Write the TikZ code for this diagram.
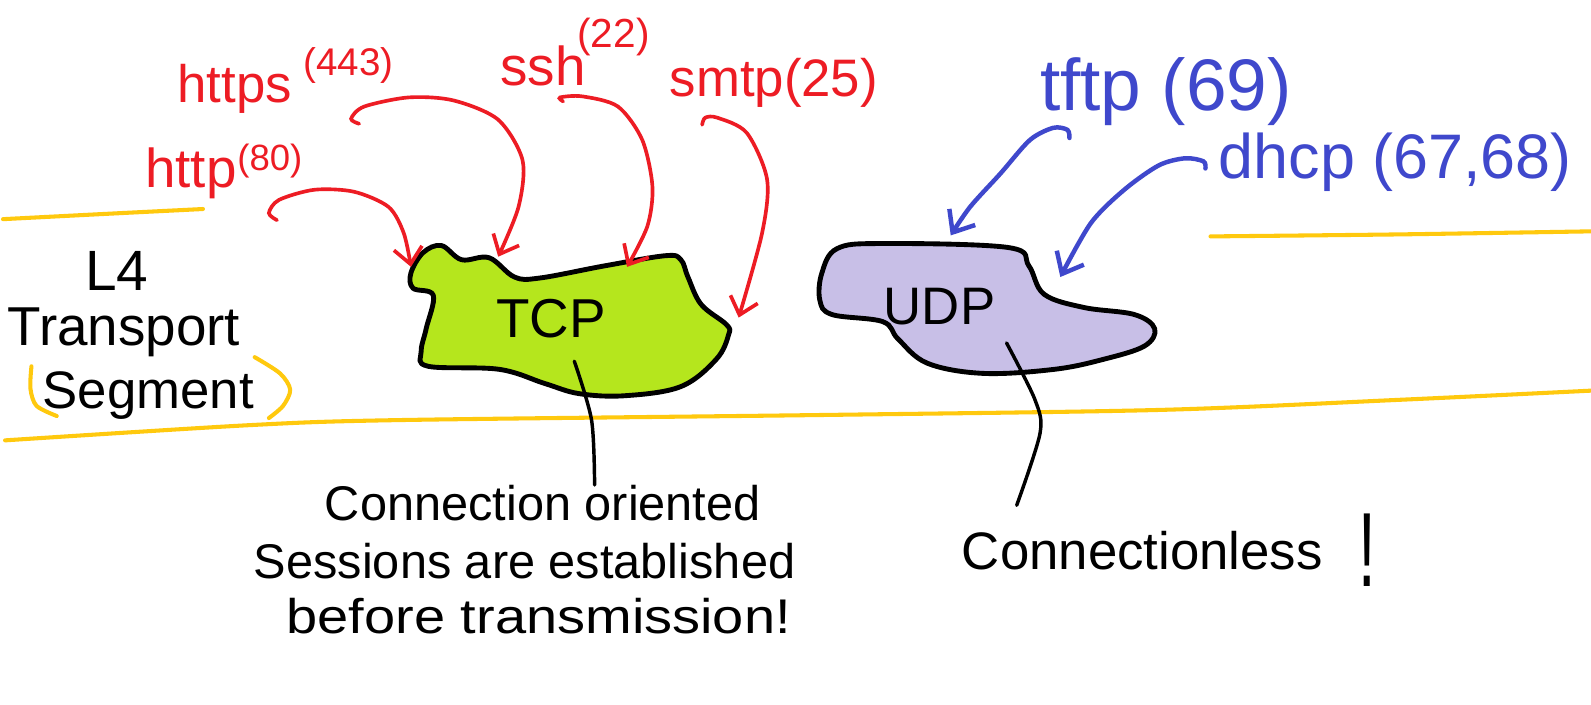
\documentclass[tikz,border=0pt]{standalone}
\usepackage{fontspec}
\setmainfont{Liberation Sans}
\usetikzlibrary{arrows.meta}
\definecolor{pred}{HTML}{ED1C24}
\definecolor{pblue}{HTML}{3F48CC}
\definecolor{pgold}{HTML}{FFC90E}
\definecolor{plime}{HTML}{B5E61D}
\definecolor{plav}{HTML}{C8BFE7}
\newcommand\fsz[1]{\fontsize{#1pt}{#1pt}\selectfont}
\tikzset{
  yel/.style={draw=pgold, line width=2pt, line cap=round, line join=round},
  redarr/.style={draw=pred, line width=1.8pt, line cap=round,
    -{Straight Barb[length=8pt,width=14pt,line width=1.8pt]}},
  bluearr/.style={draw=pblue, line width=2.2pt, line cap=round,
    -{Straight Barb[length=9pt,width=15pt,line width=2.2pt]}},
  blob/.style={draw=black, line width=2.4pt, line join=round},
  pointer/.style={draw=black, line width=1.7pt, line cap=round},
  lbl/.style={inner sep=0pt, outer sep=0pt},
  redlbl/.style={lbl, text=pred},
  bluelbl/.style={lbl, text=pblue},
}
\begin{document}
\begin{tikzpicture}[x=0.5pt,y=-0.5pt]
\useasboundingbox[fill=white] (0,0) rectangle (1568,694);

% layer band
\draw[yel] plot[smooth] coordinates {(3,216) (100,211) (200,206)};
\draw[yel] plot[smooth] coordinates {(1193,233) (1380,231) (1568,228)};
\draw[yel] plot[smooth] coordinates {(5,434) (246,419) (394,414) (810,409) (1143,404) (1380,394) (1568,385)};
\draw[yel] plot[smooth] coordinates {(31,361) (30,383) (36,400) (56,410)};
\draw[yel] plot[smooth] coordinates {(251,352) (276,368) (286,384) (279,400) (265,412)};

% layer label
\node[lbl] (l4) at (115,267) {\fsz{28}L4};
\node[lbl] (transport) at (122,328) {\fsz{27}Transport};
\node[lbl] (segment) at (146,390) {\fsz{26}Segment};

% blobs
\path[blob, fill=plime] plot[smooth cycle, tension=0.6] coordinates {
 (435,242) (455,256) (482,254) (507,273) (532,274) (596,262) (656,252)
 (671,256) (678,273) (691,300) (716,320) (718,330) (706,354) (671,381)
 (616,390) (571,388) (537,378) (492,364) (422,361) (415,347) (420,324)
 (427,291) (407,284) (405,269) (417,249)};
\path[blob, fill=plav] plot[smooth cycle, tension=0.6] coordinates {
 (825,245) (870,240) (994,244) (1014,262) (1029,290) (1068,303) (1118,310)
 (1138,324) (1128,341) (1088,354) (1039,364) (969,368) (914,358) (885,334)
 (870,317) (820,310) (808,296) (810,269)};
\node[lbl] (tcp) at (543,314) {\fsz{27}TCP};
\node[lbl] (udp) at (926,302) {\fsz{26}UDP};

% TCP protocols (red)
\node[redlbl, anchor=west] (https) at (175,88) {\fsz{26}https};
\node[redlbl, anchor=west] (https443) at (299,65) {\fsz{19}(443)};
\node[redlbl, anchor=west] (ssh) at (493,65) {\fsz{27}ssh};
\node[redlbl, anchor=west] (ssh22) at (569,36) {\fsz{20}(22)};
\node[redlbl, anchor=west] (smtp) at (660,82) {\fsz{26}smtp(25)};
\node[redlbl, anchor=west] (http) at (143,171) {\fsz{27}http};
\node[redlbl, anchor=west] (http80) at (234,159) {\fsz{18}(80)};

\coordinate (httpS) at (273,217);   \coordinate (httpE) at (405,263);
\coordinate (httpsS) at (354,122);  \coordinate (httpsE) at (491,253);
\coordinate (sshS) at (555,100);    \coordinate (sshE) at (618,263);
\coordinate (smtpS) at (692,123);   \coordinate (smtpE) at (728,313);
\draw[redarr] plot[smooth] coordinates {(httpS) (265,210) (275,197) (310,187) (349,189) (383,204) (398,230) (httpE)};
\draw[redarr] plot[smooth] coordinates {(httpsS) (346,117) (359,105) (403,96) (447,99) (491,118) (515,158) (511,204) (httpsE)};
\draw[redarr] plot[smooth] coordinates {(sshS) (552,96) (574,95) (609,105) (633,138) (643,184) (638,223) (sshE)};
\draw[redarr] plot[smooth] coordinates {(smtpS) (695,116) (707,116) (736,131) (756,177) (751,230) (smtpE)};

% UDP protocols (blue)
\node[bluelbl, anchor=west] (tftp) at (1025,90) {\fsz{36}tftp (69)};
\node[bluelbl, anchor=west] (dhcp) at (1201,160) {\fsz{31}dhcp (67,68)};
\coordinate (tftpS) at (1054,136);  \coordinate (tftpE) at (937,232);
\coordinate (dhcpS) at (1188,166);  \coordinate (dhcpE) at (1045,273);
\draw[bluearr] plot[smooth] coordinates {(tftpS) (1052,128) (1038,126) (1015,138) (986,171) (956,204) (tftpE)};
\draw[bluearr] plot[smooth] coordinates {(dhcpS) (1186,159) (1168,156) (1142,163) (1108,187) (1075,220) (dhcpE)};

% descriptions
\coordinate (tcpP) at (566,356); \coordinate (tcpQ) at (586,478);
\coordinate (udpP) at (992,338); \coordinate (udpQ) at (1002,498);
\draw[pointer] plot[smooth] coordinates {(tcpP) (583,414) (tcpQ)};
\draw[pointer] plot[smooth] coordinates {(udpP) (1020,394) (1025,427) (udpQ)};

\node[lbl] (co1) at (535,496) {\fsz{24}Connection oriented};
\node[lbl] (co2) at (517,553) {\fsz{24}Sessions are established};
\node[lbl, xscale=1.15] (co3) at (531,607) {\fsz{24}before transmission!};
\node[lbl, anchor=west] (cl) at (948,543) {\fsz{26}Connectionless};
\node[lbl, xscale=0.6] (clx) at (1348,542) {\fsz{52}!};
\end{tikzpicture}
\end{document}
